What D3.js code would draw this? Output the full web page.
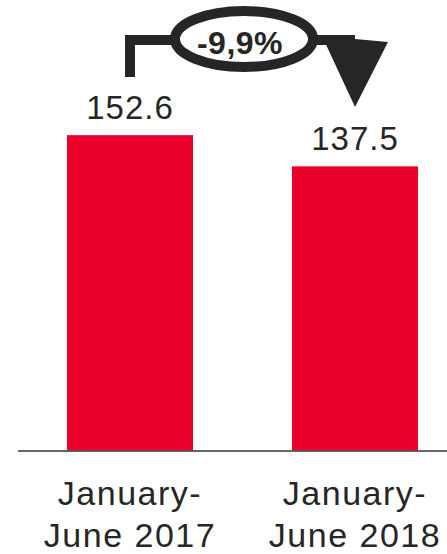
<!DOCTYPE html>
<html>
<head>
<meta charset="utf-8">
<script src="https://cdn.jsdelivr.net/npm/d3@7"></script>
<style>
  body { margin: 0; background: #fff; }
  text { font-family: "Liberation Sans", Arial, sans-serif; fill: #262626; }
</style>
</head>
<body>
<div id="chart"></div>
<script>
// data
const categories = ["January-|June 2017", "January-|June 2018"];
const values = [152.6, 137.5];
const changeLabel = "-9,9%";

const w = 447, h = 554;
const baseY = 450.5;
const red = "#e9002b";
const ink = "#262626";

const svg = d3.select("#chart").append("svg").attr("width", w).attr("height", h);

// scales
const xScale = d3.scaleBand()
  .domain(categories)
  .range([17.5, 467.5])
  .paddingInner(0.44)
  .paddingOuter(0.22);

const yScale = d3.scaleLinear()
  .domain([0, 218])
  .range([baseY, 0]);

// bars
svg.selectAll("rect.bar")
  .data(values)
  .enter()
  .append("rect")
  .attr("class", "bar")
  .attr("x", (d, i) => xScale(categories[i]))
  .attr("y", d => yScale(d))
  .attr("width", xScale.bandwidth())
  .attr("height", d => baseY - yScale(d))
  .style("fill", red);

// axis line
const xAxis = d3.axisBottom(xScale).tickSize(0).tickFormat("");
const ax = svg.append("g")
  .attr("transform", "translate(0," + baseY + ")")
  .call(xAxis);
ax.select(".domain").attr("stroke", "#333").attr("stroke-width", 1.5);

// value labels
svg.selectAll("text.value")
  .data(values)
  .enter()
  .append("text")
  .attr("class", "value")
  .attr("x", (d, i) => xScale(categories[i]) + xScale.bandwidth() / 2)
  .attr("y", d => yScale(d) - 16)
  .attr("text-anchor", "middle")
  .style("font-size", "33px")
  .style("letter-spacing", "1px")
  .text(d => d.toFixed(1));

// category labels
const cat = svg.selectAll("text.cat")
  .data(categories)
  .enter()
  .append("text")
  .attr("class", "cat")
  .attr("text-anchor", "middle")
  .style("font-size", "34px")
  .style("letter-spacing", "1.5px");
cat.each(function(d) {
  const cx = xScale(d) + xScale.bandwidth() / 2;
  d.split("|").forEach((line, j) => {
    d3.select(this).append("tspan")
      .attr("x", cx)
      .attr("y", 505 + j * 42)
      .text(line);
  });
});

// change arrow
const x1 = xScale(categories[0]) + xScale.bandwidth() / 2;
const x2 = xScale(categories[1]) + xScale.bandwidth() / 2;
const arrowY = 40;
const cx = 244, cy = 39, rx = 69, ry = 28;

svg.append("path")
  .attr("d", `M${x1},77 V${arrowY} H${cx - rx}`)
  .attr("fill", "none")
  .attr("stroke", ink)
  .attr("stroke-width", 10)
  .attr("stroke-linejoin", "miter");

svg.append("path")
  .attr("d", `M${cx + rx},${arrowY} H${x2}`)
  .attr("fill", "none")
  .attr("stroke", ink)
  .attr("stroke-width", 10);

svg.append("polygon")
  .attr("points", `${x2 - 33},36 ${x2 + 33},42 ${x2},107`)
  .attr("fill", ink);

svg.append("ellipse")
  .attr("cx", cx).attr("cy", cy)
  .attr("rx", rx).attr("ry", ry)
  .attr("fill", "#fff")
  .attr("stroke", ink)
  .attr("stroke-width", 10);

svg.append("text")
  .attr("x", cx - 4)
  .attr("y", 54)
  .attr("text-anchor", "middle")
  .style("font-size", "32px")
  .style("font-weight", "bold")
  .style("letter-spacing", "0.5px")
  .text(changeLabel);
</script>
</body>
</html>
